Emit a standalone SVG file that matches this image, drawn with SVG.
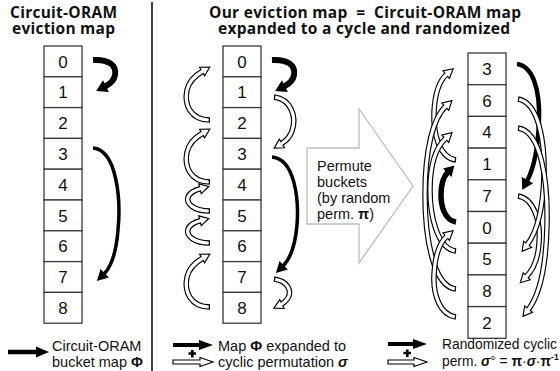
<svg xmlns="http://www.w3.org/2000/svg" width="560" height="371" viewBox="0 0 560 371">
  <style>
    .box { fill:#fff; stroke:#3a3a3a; stroke-width:1.3; }
    .dig { font-family:"Liberation Sans", Arial, sans-serif; font-size:17px; fill:#111; text-anchor:middle; }
    .ttl { font-family:"Open Sans", "Noto Sans", sans-serif; font-weight:700; font-size:15.5px; fill:#111; text-anchor:middle; white-space:pre; }
    .lbl { font-family:"Liberation Sans", Arial, sans-serif; font-size:14.5px; fill:#111; white-space:pre; }
    .lbs { font-family:"Liberation Sans", Arial, sans-serif; font-size:13.8px; fill:#111; white-space:pre; }
    .b { font-weight:700; }
    .bi { font-weight:700; font-style:italic; }
    .bk { fill:none; stroke:#000; }
    .hd { fill:#000; }
    .hb { fill:none; stroke:#000; stroke-width:5.5; }
    .hw { fill:none; stroke:#fff; stroke-width:3.2; stroke-dasharray:0 1.2 1000; }
    .hh { fill:#fff; stroke:#000; stroke-width:1.15; stroke-linejoin:miter; }
    .div { stroke:#111; stroke-width:1.6; }
    .big { fill:#fff; stroke:#bdbdbd; stroke-width:1.3; }
  </style>

  <!-- headings (two lines each) -->
  <text class="ttl"><tspan x="63.5" y="17.5" textLength="107">Circuit-ORAM</tspan><tspan x="63.5" y="34" textLength="103">eviction map</tspan></text>
  <text class="ttl"><tspan x="365" y="17.5" textLength="312">Our eviction map  =  Circuit-ORAM map</tspan><tspan x="364" y="34" textLength="292">expanded to a cycle and randomized</tspan></text>

  <!-- panel divider -->
  <line class="div" x1="152" y1="2" x2="152" y2="371"/>

  <!-- left column: Circuit-ORAM buckets -->
  <g id="col-left">
    <g id="l0"><rect class="box" x="44" y="46" width="38" height="30.8"/><text class="dig" x="63" y="67.5">0</text></g>
    <g id="l1"><rect class="box" x="44" y="76.8" width="38" height="30.8"/><text class="dig" x="63" y="98.3">1</text></g>
    <g id="l2"><rect class="box" x="44" y="107.6" width="38" height="30.8"/><text class="dig" x="63" y="129.1">2</text></g>
    <g id="l3"><rect class="box" x="44" y="138.4" width="38" height="30.8"/><text class="dig" x="63" y="159.9">3</text></g>
    <g id="l4"><rect class="box" x="44" y="169.2" width="38" height="30.8"/><text class="dig" x="63" y="190.7">4</text></g>
    <g id="l5"><rect class="box" x="44" y="200" width="38" height="30.8"/><text class="dig" x="63" y="221.5">5</text></g>
    <g id="l6"><rect class="box" x="44" y="230.8" width="38" height="30.8"/><text class="dig" x="63" y="252.3">6</text></g>
    <g id="l7"><rect class="box" x="44" y="261.6" width="38" height="30.8"/><text class="dig" x="63" y="283.1">7</text></g>
    <g id="l8"><rect class="box" x="44" y="292.4" width="38" height="30.8"/><text class="dig" x="63" y="313.9">8</text></g>
  </g>

  <!-- middle column: same buckets, cycle -->
  <g id="col-mid">
    <g id="m0"><rect class="box" x="223" y="46" width="38" height="30.8"/><text class="dig" x="242" y="67.5">0</text></g>
    <g id="m1"><rect class="box" x="223" y="76.8" width="38" height="30.8"/><text class="dig" x="242" y="98.3">1</text></g>
    <g id="m2"><rect class="box" x="223" y="107.6" width="38" height="30.8"/><text class="dig" x="242" y="129.1">2</text></g>
    <g id="m3"><rect class="box" x="223" y="138.4" width="38" height="30.8"/><text class="dig" x="242" y="159.9">3</text></g>
    <g id="m4"><rect class="box" x="223" y="169.2" width="38" height="30.8"/><text class="dig" x="242" y="190.7">4</text></g>
    <g id="m5"><rect class="box" x="223" y="200" width="38" height="30.8"/><text class="dig" x="242" y="221.5">5</text></g>
    <g id="m6"><rect class="box" x="223" y="230.8" width="38" height="30.8"/><text class="dig" x="242" y="252.3">6</text></g>
    <g id="m7"><rect class="box" x="223" y="261.6" width="38" height="30.8"/><text class="dig" x="242" y="283.1">7</text></g>
    <g id="m8"><rect class="box" x="223" y="292.4" width="38" height="30.8"/><text class="dig" x="242" y="313.9">8</text></g>
  </g>

  <!-- right column: permuted buckets -->
  <g id="col-right">
    <g id="r0"><rect class="box" x="468" y="53" width="38" height="31.7"/><text class="dig" x="487" y="75">3</text></g>
    <g id="r1"><rect class="box" x="468" y="84.7" width="38" height="31.7"/><text class="dig" x="487" y="106.7">6</text></g>
    <g id="r2"><rect class="box" x="468" y="116.4" width="38" height="31.7"/><text class="dig" x="487" y="138.4">4</text></g>
    <g id="r3"><rect class="box" x="468" y="148.1" width="38" height="31.7"/><text class="dig" x="487" y="170.1">1</text></g>
    <g id="r4"><rect class="box" x="468" y="179.8" width="38" height="31.7"/><text class="dig" x="487" y="201.8">7</text></g>
    <g id="r5"><rect class="box" x="468" y="211.5" width="38" height="31.7"/><text class="dig" x="487" y="233.5">0</text></g>
    <g id="r6"><rect class="box" x="468" y="243.2" width="38" height="31.7"/><text class="dig" x="487" y="265.2">5</text></g>
    <g id="r7"><rect class="box" x="468" y="274.9" width="38" height="31.7"/><text class="dig" x="487" y="296.9">8</text></g>
    <g id="r8"><rect class="box" x="468" y="306.6" width="38" height="31.7"/><text class="dig" x="487" y="328.6">2</text></g>
  </g>

  <!-- permutation step -->
  <g id="permute">
    <polygon class="big" points="307,148 359,148 359,109 413,186 359,263 359,224 307,224"/>
    <text class="lbl" x="317" y="171">Permute</text>
    <text class="lbl" x="317" y="187">buckets</text>
    <text class="lbl" x="317" y="203">(by random</text>
    <text class="lbl" x="317" y="219">perm. <tspan class="b">π</tspan>)</text>
  </g>

  <g id="connectors">
    <defs>
      <!-- Φ : 0 -> 1 -->
      <g id="phi01">
        <path class="bk" stroke-width="6" d="M93,60 C108,59 117,65 115,75 C114,81 110,84 105,86.5"/>
        <polygon class="hd" points="96.1,91 103,80.2 108.8,91.9"/>
      </g>
      <!-- hollow hop on the left of a column (two buckets up) -->
      <g id="hopL">
        <path class="hb" d="M210,120 C190,120 184,104 187,90 C189,81 196,75 203,71"/>
        <polygon class="hh" points="209.9,67 204.6,75.8 199.6,67.2"/>
        <path class="hw" d="M210,120 C190,120 184,104 187,90 C189,81 196,75 203,71"/>
      </g>
      <!-- short hollow hop (one bucket up) -->
      <g id="hopS">
        <path class="hb" d="M210,211 C194,211 186,204 188,197 C190,192 195,190 201,188.5"/>
        <polygon class="hh" points="208.8,186.5 201.2,193.6 198.8,183.9"/>
        <path class="hw" d="M210,211 C194,211 186,204 188,197 C190,192 195,190 201,188.5"/>
      </g>
    </defs>

    <!-- left column: Φ -->
    <use href="#phi01"/>
    <path class="bk" stroke-width="3.5" d="M93,148 C117,150 121,200 118,230 C116,255 110,268 104,274"/>
    <polygon class="hd" points="96.9,281.1 100.5,269.1 108.9,277.5"/>

    <!-- middle column: Φ -->
    <use href="#phi01" transform="translate(179,0)"/>
    <path class="bk" stroke-width="3.5" d="M272,157 C295,159 299,200 297,225 C295,248 289,260 283,266"/>
    <polygon class="hd" points="275.9,273.1 279.5,261.1 287.9,269.5"/>

    <!-- middle column: σ, 1 -> 3 -->
    <path class="hb" d="M274,97 C291,99 297,117 292,131 C290,137 286,141 281,144"/>
    <polygon class="hh" points="274.2,148.1 279.3,139.2 284.5,147.8"/>
    <path class="hw" d="M274,97 C291,99 297,117 292,131 C290,137 286,141 281,144"/>
    <!-- 7 -> 8 -->
    <path class="hb" d="M274,279 C288,281 292,291 288,298 C286,301 284,303 281,304.5"/>
    <polygon class="hh" points="273.9,308.1 279.7,299.6 284.1,308.5"/>
    <path class="hw" d="M274,279 C288,281 292,291 288,298 C286,301 284,303 281,304.5"/>
    <!-- 2 -> 0, 4 -> 2, 5 -> 4, 6 -> 5, 8 -> 6 -->
    <use href="#hopL"/>
    <use href="#hopL" transform="translate(0,62)"/>
    <use href="#hopS"/>
    <use href="#hopS" transform="translate(0,32)"/>
    <use href="#hopL" transform="translate(0,187)"/>

    <!-- right column: σ° -->
    <!-- 3 -> 7 -->
    <path class="bk" stroke-width="4.5" d="M517,64 C533,66 540,90 539,120 C538,150 533,170 527,181"/>
    <polygon class="hd" points="522.2,189.8 521.8,177 533.2,183.2"/>
    <!-- 0 -> 1 -->
    <path class="bk" stroke-width="5.5" d="M456,222 C444,220 441,205 441,195 C441,185 443,177 448,172"/>
    <polygon class="hd" points="454.4,165.6 451.5,176.9 443.1,168.5"/>
    <!-- 7 -> 8 -->
    <path class="hb" d="M518,196 C533,198 541,220 539,243 C538,260 533,270 526,277"/>
    <polygon class="hh" points="520.3,282.7 523.2,272.8 530.2,279.8"/>
    <path class="hw" d="M518,196 C533,198 541,220 539,243 C538,260 533,270 526,277"/>
    <!-- 6 -> 5 -->
    <path class="hb" d="M518,99 C538,102 545,140 544,175 C543,210 537,232 527,245"/>
    <polygon class="hh" points="522.1,251.3 523.6,241.2 531.6,247.3"/>
    <path class="hw" d="M518,99 C538,102 545,140 544,175 C543,210 537,232 527,245"/>
    <!-- 4 -> 2 -->
    <path class="hb" d="M518,128 C541,131 548,180 547,225 C546,270 539,296 528,310"/>
    <polygon class="hh" points="523,316.3 524.7,306.1 532.5,312.3"/>
    <path class="hw" d="M518,128 C541,131 548,180 547,225 C546,270 539,296 528,310"/>
    <!-- 1 -> 3 -->
    <path class="hb" d="M456,160 C440,158 433,135 434,112 C435,92 440,80 447,74"/>
    <polygon class="hh" points="453.1,68.8 449.5,78.5 443,70.9"/>
    <path class="hw" d="M456,160 C440,158 433,135 434,112 C435,92 440,80 447,74"/>
    <!-- 8 -> 6 -->
    <path class="hb" d="M456,289 C434,287 425,240 425,195 C425,150 433,118 446,106"/>
    <polygon class="hh" points="451.9,100.6 448.7,110.4 441.9,103"/>
    <path class="hw" d="M456,289 C434,287 425,240 425,195 C425,150 433,118 446,106"/>
    <!-- 5 -> 4 -->
    <path class="hb" d="M456,251 C437,249 430,215 430,190 C430,165 435,148 446,138"/>
    <polygon class="hh" points="452,132.6 448.7,142.4 441.9,135"/>
    <path class="hw" d="M456,251 C437,249 430,215 430,190 C430,165 435,148 446,138"/>
    <!-- 2 -> 0 -->
    <path class="hb" d="M456,317 C440,315 433,295 434,275 C435,255 439,243 447,236"/>
    <polygon class="hh" points="453,230.8 449.5,240.5 442.9,232.9"/>
    <path class="hw" d="M456,317 C440,315 433,295 434,275 C435,255 439,243 447,236"/>
  </g>

  <!-- legend -->
  <g id="legend-left">
    <line class="bk" stroke-width="4.5" x1="8" y1="352" x2="38" y2="352"/>
    <polygon class="hd" points="36,346.5 49,352 36,357.5"/>
    <text class="lbl" x="52" y="351">Circuit-ORAM</text>
    <text class="lbl" x="52" y="367">bucket map <tspan class="b">Φ</tspan></text>
  </g>
  <g id="legend-mid">
    <line class="bk" stroke-width="4" x1="173" y1="345" x2="201" y2="345"/>
    <polygon class="hd" points="199,340 213,345 199,350"/>
    <path class="bk" stroke-width="2.6" d="M188.5,353.5 H196 M192.3,350 V357.5"/>
    <polygon class="hh" points="173,360 200,360 200,357.5 213,362 200,366.5 200,364 173,364"/>
    <text class="lbl" x="218" y="351">Map <tspan class="b">Φ</tspan> expanded to</text>
    <text class="lbl" x="218" y="367">cyclic permutation <tspan class="bi">σ</tspan></text>
  </g>
  <g id="legend-right">
    <line class="bk" stroke-width="4" x1="388" y1="344" x2="415" y2="344"/>
    <polygon class="hd" points="413,339 427,344 413,349"/>
    <path class="bk" stroke-width="2.6" d="M403.5,353 H411 M407.3,349.5 V357"/>
    <polygon class="hh" points="388,360 414,360 414,357.5 427,362 414,366.5 414,364 388,364"/>
    <text class="lbs" x="442" y="349">Randomized cyclic</text>
    <text class="lbs" x="442" y="366">perm. <tspan class="bi">σ</tspan>° = <tspan class="b">π</tspan>·<tspan class="bi">σ</tspan>·<tspan class="b">π</tspan><tspan class="b" font-size="8.5" dy="-6">-1</tspan></text>
  </g>
</svg>
